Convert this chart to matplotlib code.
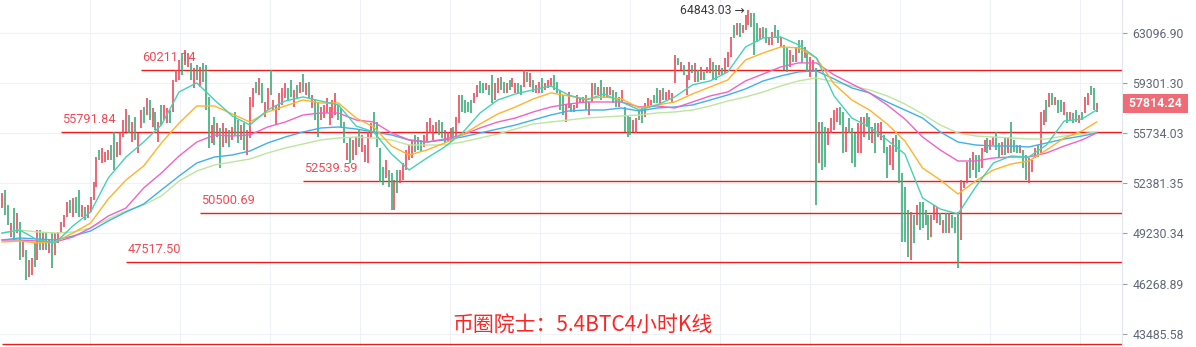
import matplotlib.pyplot as plt
import matplotlib.ticker as mticker
import numpy as np

# 4h candles (oldest first)
opens = [
    50800, 51946, 50992, 49016, 50803, 49259, 49932, 47821, 48236, 46653,
    46769, 48655, 47644, 49442, 48236, 49259, 48058, 49259, 47939, 48655,
    49259, 49626, 50242, 51308, 50242, 51499, 51946, 50242, 50866, 50180,
    50554, 51308, 52140, 54576, 53708, 53774, 53906, 54914, 55802, 54106,
    54240, 55460, 55802, 56988, 55118, 56848, 54374,
    56079, 57554, 56988, 58053, 56149, 57200, 55118, 57696, 56636, 56426,
    57340, 57200, 59364, 59510, 61528, 60624, 60474, 60774, 58925, 60624,
    58998, 60774, 60624, 58271, 55050, 56848, 55460, 56079, 54778, 55050,
    55940, 55254, 57200, 56636, 55254, 56426, 54240, 55391, 57554, 59364,
    58417, 59291, 56848, 57340, 60250,
    57340, 56287, 57340, 57696, 58198, 58925, 59510, 57554, 59145, 58562,
    59954, 58417, 59364, 57482, 58053, 57839, 56636, 56776, 57129, 56287,
    56776, 56988, 57696, 57482, 56496, 53906, 55460, 53906, 54240, 55940,
    54442, 53774, 53708, 55460, 57200, 56496, 54711, 53443, 52721, 53245,
    53048, 50678, 53245, 52397, 52591, 53245, 53906,
    54039, 55597, 55460, 55254, 54778, 55118, 55734, 55254, 55802, 56636,
    56496, 55050, 55118, 55118, 56149, 55460, 56426, 58417, 58053, 57910,
    58053, 57839, 58271, 59437, 59291, 58779, 59145, 59880, 58053, 58562,
    59732, 59364, 58562, 59510, 58998, 58562, 59291, 59145, 58998, 60102,
    58998, 59510, 58562, 58562,
    59658, 58779, 58925, 58998, 59880, 59364, 58779, 58417, 56496, 57482,
    57839, 57200, 57482, 57839, 57910, 58417, 56988, 57910, 59291, 58417,
    59510, 58998, 58271, 58417, 58779, 58634, 57554, 57839, 57554, 56988,
    56848, 55802, 55734, 57340, 57554, 56848, 57554, 57696, 58417, 58925,
    57839, 58925, 58053, 58053, 57910, 59291,
    61149, 60250, 60624, 58417, 59510, 60624, 59364, 60250, 59510, 60102,
    60028, 60028, 60848, 60624, 59880, 60400, 60028, 60474, 61225, 63690,
    62908, 63848, 63064, 63297, 63690, 64641, 64641, 63848, 62522, 63533,
    63454, 62138, 62138, 63690, 63297, 61985, 62138, 61908, 60474, 61376,
    60848, 62522, 62522, 61149, 61603, 59732,
    60102, 60400, 53708, 56496, 56149, 54914, 55734, 55940, 56496, 57554,
    57200, 54442, 56776, 56079, 55734, 54374, 54374, 55460, 57129, 56848,
    55050, 56426, 55460, 55254, 55597, 54778, 53575, 53245, 55597, 55254,
    53048, 52140, 50678, 47644, 50366, 49748, 51181, 51181, 50678, 50366,
    49016, 50056, 49870, 50492, 49259, 50492,
    49259, 50366, 50242, 50554, 48835, 52075, 52397, 54039, 53245, 54240,
    54240, 53377, 54442, 55391, 54576, 54914, 55802, 55050, 54240, 55391,
    54374, 56496, 55254, 54914, 54374, 54576, 54240, 52397, 53114, 54039,
    54914, 54374, 56287, 58053, 57554, 58562, 57696, 58053, 58053, 56988,
    57200, 56636, 57129, 57340, 56426, 57200, 57129, 57696, 59072, 58925,
    57200,
]
closes = [
    51750, 50366, 49748, 49870, 48835, 50492, 47644, 48835, 46480, 47644,
    47762, 47234, 49442, 48236, 49259, 48236, 48835, 47176, 49259, 49320,
    49932, 50366, 51181, 50492, 51435, 50492, 50242, 50992, 50056, 50992,
    51499, 52461, 54106, 53906, 54711, 54442, 54576, 53906, 53245, 55118,
    55802, 56636, 57411, 55734, 56496, 55254, 55734,
    57340, 56426, 58198, 56636, 57482, 55940, 56496, 56287, 57696, 57482,
    56426, 59510, 60250, 60998, 59880, 61755, 61528, 59510, 60400, 59510,
    60474, 59364, 57340, 54711, 56287, 54914, 56426, 53377, 56426, 56079,
    54778, 56149, 55597, 55050, 56287, 54576, 55940, 58271, 58925, 58562,
    59658, 57839, 57910, 58925, 58417,
    58053, 57696, 58562, 58925, 59291, 58053, 58271, 58779, 58198, 59364,
    58634, 59291, 58198, 58417, 56636, 55460, 57554, 57696, 58198, 57554,
    58053, 58562, 56636, 56149, 55050, 55050, 53708, 55254, 55460, 54778,
    55597, 54914, 55802, 56426, 55802, 54778, 52461, 52268, 53906, 52140,
    50678, 52591, 51754, 53245, 53708, 54576, 54914,
    55254, 54442, 54576, 54442, 55597, 56496, 56776, 56287, 56496, 55597,
    55391, 55940, 55802, 56079, 55254, 56848, 58417, 57200, 57129, 57200,
    57129, 58562, 59145, 58562, 58562, 59291, 58417, 57839, 59291, 59658,
    58779, 58562, 59291, 58779, 59658, 59291, 58562, 58417, 60250, 59364,
    60028, 58634, 59145, 59364,
    58562, 59291, 59510, 59658, 58779, 58562, 57340, 56988, 57696, 58634,
    57200, 57696, 58417, 58198, 58271, 57340, 57910, 59291, 58417, 58998,
    58053, 58198, 58998, 58998, 57839, 57554, 58271, 58779, 55802, 55460,
    55597, 56636, 56776, 56636, 56426, 57839, 58198, 58053, 57839, 57839,
    58779, 58053, 58634, 58779, 58562, 61376,
    60624, 60848, 59880, 59880, 60848, 60028, 60774, 59364, 60474, 59510,
    60474, 61149, 59510, 59510, 60624, 59880, 61149, 61603, 62754, 62676,
    63848, 62754, 63690, 64482, 64843.03, 63533, 61376, 62368, 63454, 62676,
    62291, 62754, 63141, 62754, 62291, 62754, 60250, 60102, 61755, 60848,
    61985, 61528, 60774, 61985, 60102, 61225,
    60998, 50992, 56496, 53245, 53443, 56079, 56776, 57340, 57482, 56287,
    54374, 56149, 55734, 53708, 53443, 56426, 56848, 56848, 56149, 55254,
    56149, 54374, 56426, 56496, 54374, 52721, 54914, 55391, 54442, 52397,
    48715, 48715, 47821, 50554, 48655, 50992, 49442, 49564, 49748, 48835,
    50366, 50992, 50866, 49748, 50056, 49259,
    50492, 49564, 49259, 47176, 52591, 52461, 53774, 52721, 54442, 52721,
    53114, 54711, 55254, 54374, 55254, 55460, 54576, 54039, 55118, 54240,
    55391, 54374, 54442, 54374, 54914, 53377, 52591, 54039, 53906, 54711,
    54106, 57200, 57340, 56496, 58562, 57696, 58271, 57129, 57200, 57910,
    56426, 57200, 56426, 56496, 56988, 56636, 58271, 58562, 58417, 57340,
    57814.24,
]

# moving-average lines, read every 6th candle
ma_idx = list(range(0, 367, 6)) + [371]
ma_teal = [
    49259, 49442, 48835, 48655, 49687, 50554, 52721, 54106, 55118, 56287,
    58634, 59291, 58053, 56918, 56287, 57340, 57982, 58271, 57982, 57696,
    56218, 55802, 54307, 53245, 54039, 54778, 55734, 57129, 58053, 58489,
    58779, 59072, 58417, 58053, 58489, 57910, 57340, 57696, 58271, 59145,
    59437, 60102, 61985, 62676, 62754, 62138, 61149, 58344, 56776, 56149,
    55254, 54307, 51435, 50740, 50430, 52140, 53708, 54173, 54106, 54914,
    56566, 56706, 57340,
]
ma_orange = [
    48715, 48775, 48655, 48715, 49259, 49870, 51372, 52591, 53509, 55050,
    56426, 57625, 57625, 57059, 56496, 57200, 57625, 58053, 57839, 57839,
    56776, 56149, 54846, 54240, 54576, 55050, 55597, 56357, 57059, 57554,
    58126, 58562, 58344, 58126, 58271, 58126, 57482, 57696, 57910, 58489,
    58998, 59510, 60998, 61528, 61985, 61908, 61149, 59218, 58053, 57340,
    56357, 55186, 53377, 52591, 51690, 52526, 53245, 53641, 53840, 54576,
    55391, 55871, 56496,
]
ma_pink = [
    48835, 48835, 48775, 48715, 49016, 49564, 50304, 50803, 52075, 53048,
    54173, 55118, 55597, 55528, 55597, 56149, 56496, 56988, 57129, 57129,
    56636, 56496, 55734, 55254, 55118, 55322, 55597, 56079, 56496, 56776,
    57200, 57554, 57767, 57910, 57910, 57910, 57554, 57625, 57482, 57910,
    58344, 58634, 59437, 59954, 60474, 60774, 60774, 59880, 59218, 58562,
    57696, 56706, 55460, 54576, 53840, 53840, 54039, 54106, 54106, 54374,
    54846, 55254, 55734,
]
ma_blue = [
    48835, 48956, 48896, 48835, 49077, 49381, 49994, 50554, 51055, 51946,
    52852, 53708, 54106, 54240, 54509, 55050, 55460, 55802, 56079, 56149,
    56010, 55802, 55597, 55254, 55118, 55254, 55460, 55734, 56010, 56287,
    56636, 56988, 57270, 57340, 57340, 57482, 57270, 57482, 57554, 57696,
    58053, 58417, 58852, 59437, 59806, 60102, 60176, 59584, 58925, 58562,
    57910, 57340, 56776, 55802, 55118, 54914, 54846, 54846, 54778, 55050,
    55322, 55528, 55734,
]
ma_green = [
    49259, 49442, 49320, 49259, 49320, 49564, 50118, 50616, 50992, 51563,
    52526, 53179, 53575, 53774, 53972, 54374, 54711, 54982, 55254, 55391,
    55460, 55391, 55254, 54914, 54914, 54914, 55118, 55391, 55666, 56010,
    56357, 56496, 56636, 56776, 56848, 56918, 56988, 57129, 57200, 57340,
    57625, 57982, 58271, 58634, 59072, 59437, 59658, 59364, 59072, 58779,
    58344, 57767, 57059, 56287, 55734, 55528, 55460, 55391, 55322, 55322,
    55528, 55666, 55802,
]

# drawn support / resistance levels and the candle where each starts
levels = [60211.14, 55791.84, 52539.59, 50500.69, 47517.50, 42950]
level_start = [47, 20, 102, 67, 42, 0]
level_labels = ['60211.14', '55791.84', '52539.59', '50500.69', '47517.50', '']

y_ticks = [43485.58, 46268.89, 49230.34, 52381.35, 55734.03, 59301.30, 63096.90]
peak_idx = 253
peak_price = 64843.03
title = '币圈院士：5.4BTC4小时K线'

plt.rcParams['font.family'] = ['Roboto', 'DejaVu Sans']

fig = plt.figure(figsize=(11.96, 3.47), dpi=100)
ax = fig.add_axes([0, 0, 1122 / 1196, 1])

x = np.arange(len(opens))
o = np.array(opens)
c = np.array(closes)
up = c >= o
cols = np.where(up, '#ec4a5a', '#3aaf78')
ax.vlines(x, np.minimum(o, c), np.maximum(o, c), colors=cols, lw=1.2, zorder=3)

ma_styles = [(ma_teal, '#45d1b6'), (ma_orange, '#ffb32a'), (ma_pink, '#ef63c8'),
             (ma_blue, '#3fb0ea'), (ma_green, '#bde59f')]
for vals, col in ma_styles[::-1]:
    ax.plot(ma_idx, vals, color=col, lw=1.0, zorder=4)

for lv, st, lab in zip(levels, level_start, level_labels):
    ax.hlines(lv, st, 400, colors='#f01c1c', lw=1.0, zorder=2)
    if lab:
        ax.annotate(lab, xy=(st, lv), xytext=(1.0, 6.5), textcoords='offset points',
                    ha='left', va='baseline', fontsize=9.2, color='#f04a55', zorder=1)

ax.annotate('64843.03 →', xy=(peak_idx, peak_price), xytext=(-3, 0),
            textcoords='offset points', ha='right', va='center',
            fontsize=8.8, color='#3a3a3a', zorder=5)

ax.text(0.519, 0.063, title, transform=ax.transAxes, ha='center', va='center',
        fontsize=15, color='#ff2424', family=['Noto Sans CJK SC', 'DejaVu Sans'])

ax.set_yscale('log')
ax.set_ylim(42790, 65683)
ax.set_xlim(-0.7, 379.6)
ax.yaxis.set_major_locator(mticker.FixedLocator(y_ticks))
ax.yaxis.set_major_formatter(mticker.FixedFormatter([f'{v:.2f}' for v in y_ticks]))
ax.yaxis.set_minor_locator(mticker.NullLocator())
ax.yaxis.tick_right()
ax.tick_params(axis='y', length=3.5, width=0.8, color='#9aa1ad', pad=4,
               labelsize=8.8, labelcolor='#5f6877')
ax.set_xticks([30.5 * k - 0.7 for k in range(1, 13)])
ax.tick_params(axis='x', length=0, labelbottom=False)
ax.grid(True, color='#eef1f6', lw=0.8, zorder=0)
for s in ['left', 'top', 'bottom']:
    ax.spines[s].set_visible(False)
ax.spines['right'].set_color('#e3e6ec')

last = closes[-1]
ax.annotate(f' {last:.2f} ', xy=(1, last), xycoords=('axes fraction', 'data'),
            xytext=(3, 0), textcoords='offset points', ha='left', va='center',
            fontsize=8.8, fontweight='bold', color='white', annotation_clip=False,
            bbox=dict(boxstyle='square,pad=0.25', fc='#ef6b75', ec='none'))

fig.savefig('out.png', dpi=100)
